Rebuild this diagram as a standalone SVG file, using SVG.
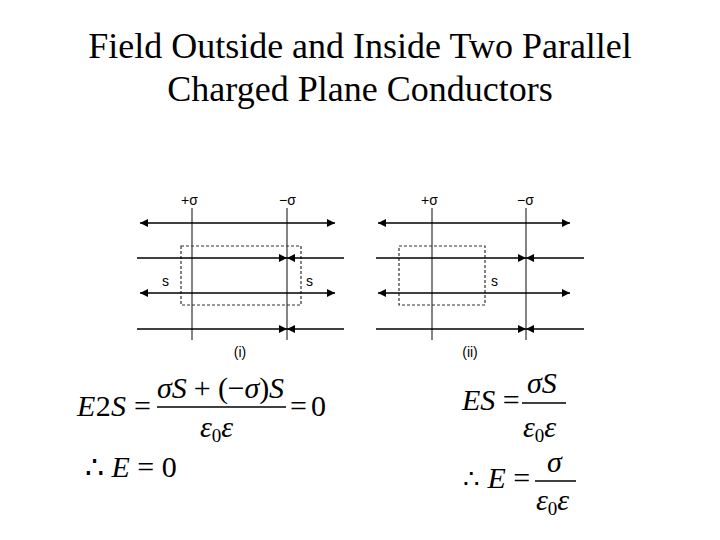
<svg xmlns="http://www.w3.org/2000/svg" width="720" height="540" viewBox="0 0 720 540">
<defs>
<marker id="ah" viewBox="0 0 10 10" refX="10" refY="5" markerWidth="8" markerHeight="8" orient="auto-start-reverse" markerUnits="userSpaceOnUse"><path d="M0,0 L10,5 L0,10 Z" fill="#000"/></marker>
</defs>
<style>
.t{font-family:"Liberation Serif",serif;fill:#000}
.s{font-family:"Liberation Sans",sans-serif;font-size:14px;fill:#000}
.m{font-family:"Liberation Serif",serif;font-size:30px;fill:#000}
.i{font-style:italic}
.ln{stroke:#000;stroke-width:1.3;fill:none}
.g{stroke:#333;stroke-width:1.2;fill:none}
.d{stroke:#333;stroke-width:1.2;stroke-dasharray:3,2;fill:none}
</style>
<rect width="720" height="540" fill="#fff"/>
<text class="t" x="360" y="58" font-size="36" text-anchor="middle">Field Outside and Inside Two Parallel</text>
<text class="t" x="360" y="101" font-size="36" text-anchor="middle">Charged Plane Conductors</text>

<g id="panel1">
<line class="g" x1="192" y1="208" x2="192" y2="340"/>
<line class="g" x1="287" y1="208" x2="287" y2="340"/>
<text class="s" x="181" y="205">+σ</text>
<text class="s" x="279" y="205">−σ</text>
<rect class="d" x="181" y="246" width="120" height="59"/>
<text class="s" x="162" y="286">s</text>
<text class="s" x="306" y="286">s</text>
<text class="s" x="240" y="357" text-anchor="middle">(i)</text>
</g>
<g id="panel2">
<line class="g" x1="432" y1="208" x2="432" y2="340"/>
<line class="g" x1="526" y1="208" x2="526" y2="340"/>
<text class="s" x="421" y="205">+σ</text>
<text class="s" x="517" y="205">−σ</text>
<rect class="d" x="399" y="246" width="86" height="59"/>
<text class="s" x="491" y="286">s</text>
<text class="s" x="470" y="357" text-anchor="middle">(ii)</text>
</g>
<g id="connectors">
<line class="ln" x1="140" y1="223" x2="335" y2="223" marker-start="url(#ah)" marker-end="url(#ah)"/>
<line class="ln" x1="137" y1="258" x2="287" y2="258" marker-end="url(#ah)"/>
<line class="ln" x1="344" y1="258" x2="287" y2="258" marker-end="url(#ah)"/>
<line class="ln" x1="140" y1="293" x2="335" y2="293" marker-start="url(#ah)" marker-end="url(#ah)"/>
<line class="ln" x1="137" y1="329" x2="287" y2="329" marker-end="url(#ah)"/>
<line class="ln" x1="344" y1="329" x2="287" y2="329" marker-end="url(#ah)"/>
<line class="ln" x1="378" y1="223" x2="570" y2="223" marker-start="url(#ah)" marker-end="url(#ah)"/>
<line class="ln" x1="376" y1="258" x2="526" y2="258" marker-end="url(#ah)"/>
<line class="ln" x1="584" y1="258" x2="526" y2="258" marker-end="url(#ah)"/>
<line class="ln" x1="378" y1="293" x2="570" y2="293" marker-start="url(#ah)" marker-end="url(#ah)"/>
<line class="ln" x1="376" y1="329" x2="526" y2="329" marker-end="url(#ah)"/>
<line class="ln" x1="584" y1="329" x2="526" y2="329" marker-end="url(#ah)"/>
</g>
<g id="eq1">
<text class="m" x="77" y="416" textLength="74"><tspan class="i">E</tspan>2<tspan class="i">S</tspan> =</text>
<line class="ln" x1="157" y1="407" x2="286" y2="407"/>
<text class="m" x="157" y="398" textLength="127"><tspan class="i">σS</tspan> + (−<tspan class="i">σ</tspan>)<tspan class="i">S</tspan></text>
<text class="m" x="290" y="416" textLength="36">= 0</text>
<text class="m i" x="200" y="437">ε<tspan font-size="19" dy="5" font-style="normal">0</tspan><tspan dy="-5">ε</tspan></text>
<text class="m" x="85" y="477" font-size="32">∴ <tspan class="i">E</tspan> = 0</text>
</g>
<g id="eq2">
<text class="m" x="462" y="410"><tspan class="i">ES</tspan> =</text>
<line class="ln" x1="522" y1="403" x2="566" y2="403"/>
<text class="m i" x="527" y="393">σS</text>
<text class="m i" x="523" y="437">ε<tspan font-size="19" dy="5" font-style="normal">0</tspan><tspan dy="-5">ε</tspan></text>
<text class="m" x="463" y="488"><tspan font-size="26">∴</tspan> <tspan class="i">E</tspan> =</text>
<line class="ln" x1="535" y1="481" x2="576" y2="481"/>
<text class="m i" x="547" y="472">σ</text>
<text class="m i" x="536" y="510">ε<tspan font-size="19" dy="5" font-style="normal">0</tspan><tspan dy="-5">ε</tspan></text>
</g>
</svg>
